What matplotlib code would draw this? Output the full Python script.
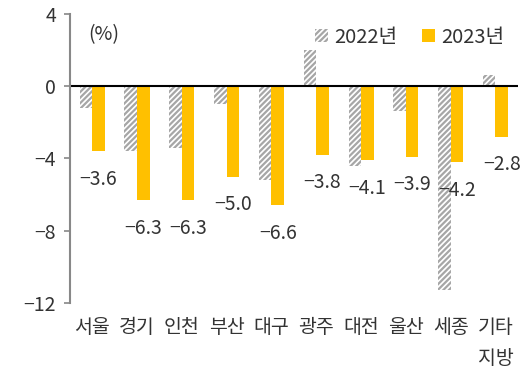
import numpy as np
import matplotlib
matplotlib.use("Agg")
import matplotlib.pyplot as plt

plt.rcParams['font.family'] = ['Noto Sans CJK KR', 'DejaVu Sans']
plt.rcParams['hatch.linewidth'] = 1.6

# data
regions = ['서울', '경기', '인천', '부산', '대구', '광주', '대전', '울산', '세종', '기타\n지방']
y2022 = [-1.2, -3.6, -3.4, -1.0, -5.2, 2.0, -4.4, -1.4, -11.3, 0.6]
y2023 = [-3.6, -6.3, -6.3, -5.0, -6.6, -3.8, -4.1, -3.9, -4.2, -2.8]
yticks = [4, 0, -4, -8, -12]

fig = plt.figure(figsize=(5.29, 3.87), dpi=100)
ax = fig.add_axes([0.132, 0.217, 0.847, 0.747])

x = np.arange(len(regions))
w = 0.28
gray = '#A6A6A6'
yellow = '#FFC000'
txt = '#333333'

ax.bar(x - w / 2, y2022, w, color='white', edgecolor=gray, hatch='//////',
       linewidth=0, label='2022년')
ax.bar(x + w / 2, y2023, w, color=yellow, linewidth=0, label='2023년')

# value labels for 2023
for xi, v in zip(x, y2023):
    ax.annotate(f'{v:.1f}'.replace('-', '\u2212'), (xi + w / 2, v), xytext=(0, -28),
                textcoords='offset pixels', ha='center', va='center',
                fontsize=14, color=txt)

ax.axhline(0, color='black', linewidth=1.5)

ax.set_xlim(-0.5, len(regions) - 0.5)
ax.set_ylim(-12, 4)
ax.set_yticks(yticks)
ax.set_yticklabels([str(t).replace('-', '\u2212') for t in yticks])
ax.set_xticks(x)
ax.set_xticklabels(regions, linespacing=1.65)
ax.tick_params(axis='x', length=0, pad=10, labelsize=14, labelcolor=txt)
ax.tick_params(axis='y', length=4, width=1.2, color='#888888', labelsize=14,
               labelcolor=txt, pad=6)
for lab in ax.get_xticklabels():
    lab.set_multialignment('right')

for s in ['top', 'right', 'bottom']:
    ax.spines[s].set_visible(False)
ax.spines['left'].set_color('#888888')
ax.spines['left'].set_linewidth(1.5)

ax.text(0.04, 0.93, '(%)', transform=ax.transAxes, fontsize=14, color=txt,
        va='center')

ax.legend(loc='upper right', bbox_to_anchor=(1.0, 1.005), ncol=2, frameon=False,
          fontsize=14.5, handlelength=0.65, handleheight=0.65, handletextpad=0.3,
          columnspacing=1.2, labelcolor=txt, borderpad=0.2)

fig.savefig('out.png', dpi=100)
